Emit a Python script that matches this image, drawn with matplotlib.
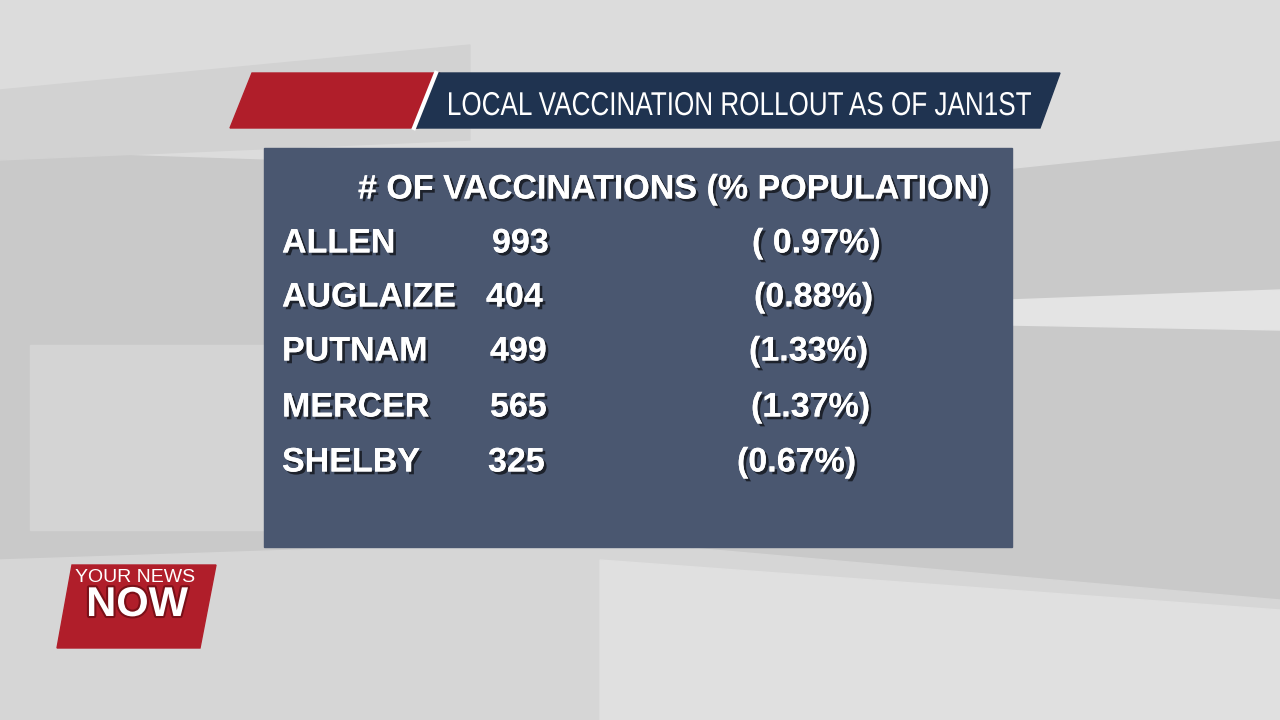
import matplotlib
matplotlib.use("Agg")
import matplotlib.pyplot as plt
from matplotlib.patches import Polygon, Rectangle, PathPatch
from matplotlib.textpath import TextPath
from matplotlib.font_manager import FontProperties
from matplotlib.transforms import Affine2D
import matplotlib.patheffects as pe

title = "LOCAL VACCINATION ROLLOUT AS OF JAN1ST"
header = "# OF VACCINATIONS (% POPULATION)"
counties = ["ALLEN", "AUGLAIZE", "PUTNAM", "MERCER", "SHELBY"]
vaccinations = [993, 404, 499, 565, 325]
pct_labels = ["( 0.97%)", "(0.88%)", "(1.33%)", "(1.37%)", "(0.67%)"]

row_y = [244, 298, 352, 408, 463]
num_x = [492, 486, 490, 490, 488]
pct_x = [752, 754, 749, 751, 737]

fig = plt.figure(figsize=(12.8, 7.2), dpi=100)
ax = fig.add_axes([0, 0, 1, 1])
ax.set_xlim(0, 1280)
ax.set_ylim(720, 0)
ax.axis("off")

# background
ax.add_patch(Rectangle((0, 0), 1280, 720, color="#c9c9c9", zorder=0))
ax.add_patch(Polygon([[0, 0], [1280, 0], [1280, 140], [900, 180], [0, 150]], color="#dcdcdc", zorder=0))
ax.add_patch(Polygon([[0, 560], [600, 540], [1280, 600], [1280, 720], [0, 720]], color="#d6d6d6", zorder=0))
ax.add_patch(Polygon([[600, 720], [600, 560], [1280, 610], [1280, 720]], color="#e0e0e0", zorder=0))
ax.add_patch(Polygon([[0, 90], [470, 45], [470, 140], [0, 160]], color="#d2d2d2", zorder=0))
ax.add_patch(Polygon([[1010, 300], [1280, 290], [1280, 330], [1010, 325]], color="#e4e4e4", zorder=0))
ax.add_patch(Polygon([[30, 345], [265, 345], [265, 530], [30, 530]], color="#d4d4d4", zorder=0))

# banner
ax.add_patch(Polygon([[252, 73], [440, 73], [418, 128], [230, 128]], color="#b01e2a", zorder=2))
ax.add_patch(Polygon([[438, 73], [1060, 73], [1040, 128], [416, 128]], color="#1f3350", zorder=2))
ax.plot([436, 414], [73, 128], color="white", lw=3, zorder=3)

# condensed title via scaled text path
tp = TextPath((0, 0), title, size=33, prop=FontProperties(family="Liberation Sans"))
bb = tp.get_extents()
target_w, target_x, base_y = 582, 449, 115
sx = target_w / bb.width
tr = Affine2D().translate(-bb.x0, 0).scale(sx, -1.0).translate(target_x, base_y)
ax.add_patch(PathPatch(tr.transform_path(tp), facecolor="white", edgecolor="none", zorder=4))

# panel
ax.add_patch(Rectangle((264, 148), 748, 399, color="#4a5770", zorder=2))

shadow = [pe.withSimplePatchShadow(offset=(2, -2), shadow_rgbFace="black", alpha=0.6), pe.Normal()]
kw = dict(color="white", fontsize=24.5, fontweight="bold", family="Liberation Sans",
          va="center", zorder=4, path_effects=shadow)
ax.text(358, 190, header, ha="left", **kw)
for i, c in enumerate(counties):
    ax.text(282, row_y[i], c, ha="left", **kw)
    ax.text(num_x[i], row_y[i], str(vaccinations[i]), ha="left", **kw)
    ax.text(pct_x[i], row_y[i], pct_labels[i], ha="left", **kw)

# logo
ax.add_patch(Polygon([[72, 565], [216, 565], [200, 648], [57, 648]], color="#b01e2a", zorder=3))
ax.text(135, 578, "YOUR NEWS", color="white", fontsize=14, family="Liberation Sans",
        ha="center", va="center", zorder=4)
ax.text(137, 605, "NOW", color="white", fontsize=30, fontweight="bold", family="Liberation Sans",
        ha="center", va="center", zorder=4,
        path_effects=[pe.withStroke(linewidth=3, foreground="#7a1018")])

fig.savefig("out.png", dpi=100)
